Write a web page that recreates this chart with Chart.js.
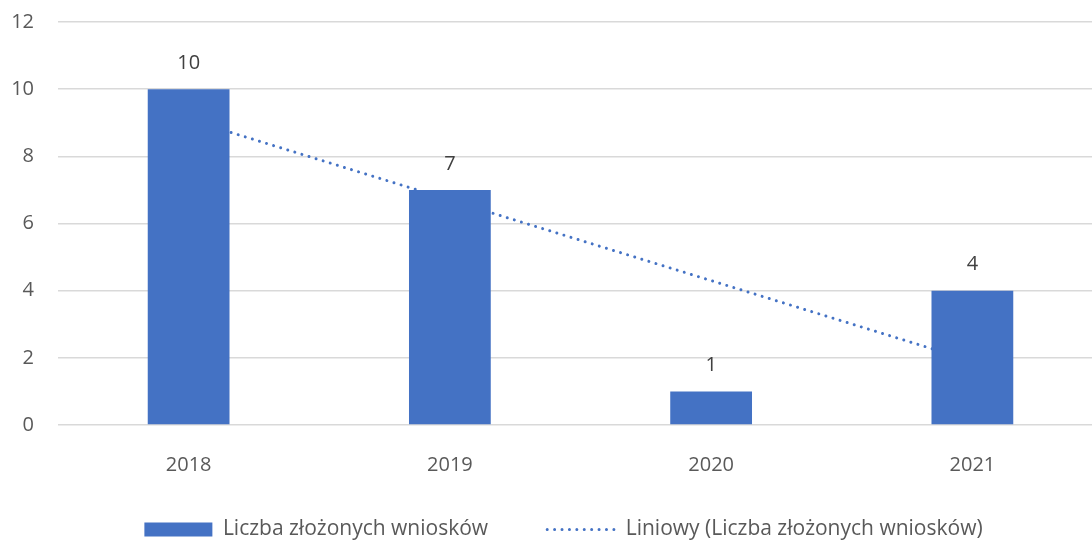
<!DOCTYPE html>
<html>
<head>
<meta charset="utf-8">
<script src="https://cdn.jsdelivr.net/npm/chart.js@4"></script>
<style>
  html, body { margin: 0; padding: 0; background: #fff; overflow: hidden; }
  #wykres { display: block; }
</style>
</head>
<body>
<canvas id="wykres" width="1124" height="550"></canvas>
<script>
// dane z wykresu
const lata = ['2018', '2019', '2020', '2021'];
const wnioski = [10, 7, 1, 4];
// linia trendu (liniowy)
const trend = [9.1, 6.7, 4.3, 1.9];
const osY = [0, 2, 4, 6, 8, 10, 12];

const niebieski = '#4472C4';
const szary = '#595959';
const czcionka = '"Open Sans", "Noto Sans", sans-serif';

// etykiety wartości nad słupkami
const etykiety = {
    id: 'etykiety',
    afterDatasetsDraw(chart) {
        const ctx = chart.ctx;
        const meta = chart.getDatasetMeta(0);
        ctx.save();
        ctx.font = '20px ' + czcionka;
        ctx.fillStyle = '#404040';
        ctx.textAlign = 'center';
        ctx.textBaseline = 'middle';
        meta.data.forEach((bar, i) => {
            ctx.fillText(String(wnioski[i]), bar.x, bar.y - 26);
        });
        ctx.restore();
    }
};

// legenda trochę w prawo, jak w oryginale
const przesunLegende = {
    id: 'przesunLegende',
    afterLayout(chart) {
        chart.legend.left += 12;
        chart.legend.right += 12;
    }
};

const ctx = document.getElementById('wykres').getContext('2d');
const chart = new Chart(ctx, {
    type: 'bar',
    data: {
        labels: lata,
        datasets: [{
            type: 'bar',
            label: 'Liczba złożonych wniosków',
            data: wnioski,
            backgroundColor: niebieski,
            borderWidth: 0,
            categoryPercentage: 1,
            barPercentage: 0.313,
            order: 1
        }, {
            type: 'line',
            label: 'Liniowy (Liczba złożonych wniosków)',
            data: trend,
            borderColor: niebieski,
            backgroundColor: niebieski,
            borderWidth: 3,
            borderDash: [0.01, 7.4],
            borderCapStyle: 'round',
            pointRadius: 0,
            fill: false,
            tension: 0,
            order: 2
        }]
    },
    options: {
        responsive: false,
        animation: false,
        layout: {
            padding: { top: 22, right: 21, left: 0, bottom: 0 }
        },
        plugins: {
            tooltip: { enabled: false },
            legend: {
                position: 'bottom',
                labels: {
                    color: szary,
                    font: { family: czcionka, size: 21 },
                    usePointStyle: true,
                    pointStyleWidth: 68,
                    boxHeight: 14,
                    padding: 10,
                    generateLabels(chart) {
                        return chart.data.datasets.map((ds, i) => ({
                            // odstęp między pozycjami legendy
                            text: i === 0 ? ds.label + '         ' : ds.label,
                            datasetIndex: i,
                            fillStyle: i === 0 ? niebieski : 'rgba(0,0,0,0)',
                            strokeStyle: niebieski,
                            lineWidth: i === 0 ? 0 : 3,
                            lineDash: i === 0 ? [] : [0.01, 7.4],
                            lineCap: 'round',
                            pointStyle: i === 0 ? 'rect' : 'line',
                            fontColor: szary,
                            hidden: false
                        }));
                    }
                }
            }
        },
        scales: {
            x: {
                grid: { display: false },
                border: { display: false },
                ticks: {
                    color: szary,
                    font: { family: czcionka, size: 20 },
                    padding: 20
                },
                afterFit(scale) { scale.height = 84; }
            },
            y: {
                min: 0,
                max: 12,
                afterBuildTicks(scale) {
                    scale.ticks = osY.map(v => ({ value: v }));
                },
                grid: { color: '#d9d9d9', lineWidth: 1.5, drawTicks: false },
                border: { display: false },
                ticks: {
                    color: szary,
                    font: { family: czcionka, size: 20 },
                    padding: 24
                },
                afterFit(scale) {
                    scale.width = 58;
                    scale.paddingTop = 0;
                    scale.paddingBottom = 0;
                }
            }
        }
    },
    plugins: [etykiety, przesunLegende]
});
</script>
</body>
</html>
